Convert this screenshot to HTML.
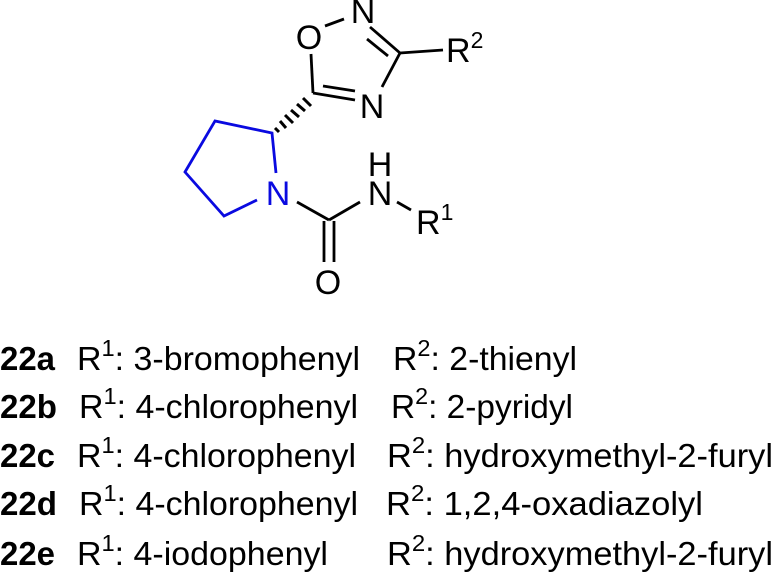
<!DOCTYPE html>
<html><head><meta charset="utf-8"><style>
html,body{margin:0;padding:0;background:#fff;}
svg{display:block}
text{font-family:"Liberation Sans",Arial,sans-serif;fill:#000}
</style></head><body>
<svg width="771" height="574" viewBox="0 0 771 574" xmlns="http://www.w3.org/2000/svg">
<g stroke="#000" stroke-width="2.8" stroke-linecap="butt" fill="none">
<line x1="325" y1="26" x2="344" y2="19"/>
<line x1="370" y1="27" x2="400" y2="53"/>
<line x1="367" y1="39" x2="388" y2="56"/>
<line x1="400" y1="53" x2="443" y2="50"/>
<line x1="400" y1="53" x2="382" y2="87"/>
<line x1="355" y1="100" x2="313" y2="93"/>
<line x1="355" y1="91" x2="323" y2="86"/>
<line x1="313" y1="93" x2="311" y2="54"/>
<line x1="297" y1="202" x2="329" y2="220"/>
<line x1="329" y1="220" x2="360" y2="202"/>
<line x1="324" y1="221" x2="324" y2="262"/>
<line x1="334" y1="221" x2="334" y2="262"/>
<line x1="397" y1="202" x2="411" y2="210"/>
</g>
<g stroke="#000" stroke-width="3">
<line x1="275" y1="128" x2="279" y2="132"/>
<line x1="280" y1="121" x2="286" y2="128"/>
<line x1="285" y1="115" x2="293" y2="123"/>
<line x1="291" y1="110" x2="299" y2="117"/>
<line x1="297" y1="104" x2="305" y2="111"/>
<line x1="303" y1="98" x2="311" y2="106"/>
</g>
<polyline points="257,200 224,216 185,172 215,121 272,133 276,173" stroke="#0a0ae0" stroke-width="2.8" fill="none" stroke-linejoin="miter"/>
<g font-size="34" text-anchor="middle">
<text x="363" y="23">N</text>
<text x="309" y="49">O</text>
<text x="372" y="118">N</text>
<text x="278" y="205" style="fill:#0a0ae0">N</text>
<text x="380" y="176">H</text>
<text x="380" y="205">N</text>
<text x="328" y="294">O</text>
</g>
<text x="446" y="62" font-size="34">R<tspan font-size="23" dy="-14">2</tspan></text>
<text x="416" y="234" font-size="34">R<tspan font-size="23" dy="-14">1</tspan></text>
<g font-size="33">
<text x="0" y="370" font-weight="bold" textLength="55" lengthAdjust="spacingAndGlyphs">22a</text>
<text x="0" y="418" font-weight="bold" textLength="57" lengthAdjust="spacingAndGlyphs">22b</text>
<text x="0" y="467" font-weight="bold" textLength="55" lengthAdjust="spacingAndGlyphs">22c</text>
<text x="0" y="515" font-weight="bold" textLength="57" lengthAdjust="spacingAndGlyphs">22d</text>
<text x="0" y="565" font-weight="bold" textLength="55" lengthAdjust="spacingAndGlyphs">22e</text>

<text x="77" y="370" textLength="283" lengthAdjust="spacingAndGlyphs">R<tspan font-size="23" dy="-14">1</tspan><tspan dy="14">: 3-bromophenyl</tspan></text>
<text x="79" y="418" textLength="279" lengthAdjust="spacingAndGlyphs">R<tspan font-size="23" dy="-14">1</tspan><tspan dy="14">: 4-chlorophenyl</tspan></text>
<text x="77" y="467" textLength="279" lengthAdjust="spacingAndGlyphs">R<tspan font-size="23" dy="-14">1</tspan><tspan dy="14">: 4-chlorophenyl</tspan></text>
<text x="79" y="515" textLength="279" lengthAdjust="spacingAndGlyphs">R<tspan font-size="23" dy="-14">1</tspan><tspan dy="14">: 4-chlorophenyl</tspan></text>
<text x="77" y="565" textLength="251" lengthAdjust="spacingAndGlyphs">R<tspan font-size="23" dy="-14">1</tspan><tspan dy="14">: 4-iodophenyl</tspan></text>

<text x="393" y="370" textLength="184" lengthAdjust="spacingAndGlyphs">R<tspan font-size="23" dy="-14">2</tspan><tspan dy="14">: 2-thienyl</tspan></text>
<text x="391" y="418" textLength="182" lengthAdjust="spacingAndGlyphs">R<tspan font-size="23" dy="-14">2</tspan><tspan dy="14">: 2-pyridyl</tspan></text>
<text x="387" y="467" textLength="386" lengthAdjust="spacingAndGlyphs">R<tspan font-size="23" dy="-14">2</tspan><tspan dy="14">: hydroxymethyl-2-furyl</tspan></text>
<text x="386" y="515" textLength="317" lengthAdjust="spacingAndGlyphs">R<tspan font-size="23" dy="-14">2</tspan><tspan dy="14">: 1,2,4-oxadiazolyl</tspan></text>
<text x="387" y="565" textLength="386" lengthAdjust="spacingAndGlyphs">R<tspan font-size="23" dy="-14">2</tspan><tspan dy="14">: hydroxymethyl-2-furyl</tspan></text>
</g>
</svg>
</body></html>
